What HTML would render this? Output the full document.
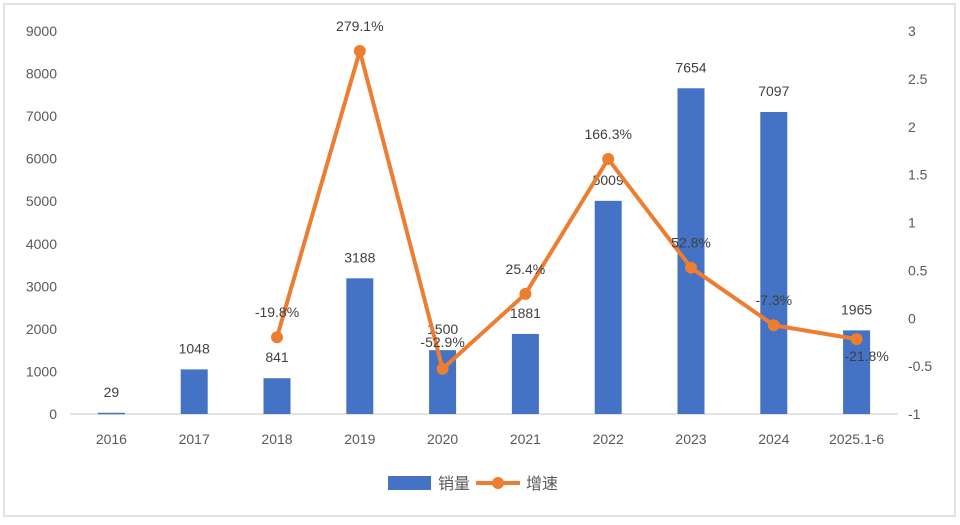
<!DOCTYPE html>
<html><head><meta charset="utf-8"><style>
html,body{margin:0;padding:0;background:#fff}
svg text{font-family:"Liberation Sans","Noto Sans CJK SC",sans-serif;fill:#595959}
</style></head><body>
<svg width="960" height="520" xmlns="http://www.w3.org/2000/svg" id="chart">
<rect x="4" y="4" width="951" height="512" fill="#fff" stroke="#d9d9d9" stroke-width="1.5"/>
<g id="g"></g>
</svg>
<script>
const categories=["2016","2017","2018","2019","2020","2021","2022","2023","2024","2025.1-6"];
const sales=[29,1048,841,3188,1500,1881,5009,7654,7097,1965];
const growth=[null,null,-0.198,2.791,-0.529,0.254,1.663,0.528,-0.073,-0.218];
const growthLabels=["","","-19.8%","279.1%","-52.9%","25.4%","166.3%","52.8%","-7.3%","-21.8%"];
const leftTicks=[0,1000,2000,3000,4000,5000,6000,7000,8000,9000];
const rightTicks=[-1,-0.5,0,0.5,1,1.5,2,2.5,3];

const NS="http://www.w3.org/2000/svg";
const g=document.getElementById('g');
const X0=70,X1=898,Y0=414,Y1=31;
const band=(X1-X0)/categories.length;
const xc=i=>X0+band*(i+0.5);
const yL=v=>Y0-(v/9000)*(Y0-Y1);
const yR=v=>Y0-((v+1)/4)*(Y0-Y1);
function mk(t,a,txt){const e=document.createElementNS(NS,t);for(const k in a)e.setAttribute(k,a[k]);if(txt!=null)e.textContent=txt;g.appendChild(e);return e;}

leftTicks.forEach(v=>{
 const t=mk('text',{x:57,y:yL(v)+5,'text-anchor':'end','font-size':14},v);
 
 
});
rightTicks.forEach(v=>{
 const t=mk('text',{x:908,y:yR(v)+5,'text-anchor':'start','font-size':14},v);
 
 
});
const ax=mk('line',{x1:X0,y1:Y0,x2:X1,y2:Y0,stroke:'#d9d9d9','stroke-width':1.5});



categories.forEach((c,i)=>{
 const t=mk('text',{x:xc(i),y:444,'text-anchor':'middle','font-size':14},c);
 
 
 const bw=27,y=yL(sales[i]);
 const b=mk('rect',{x:xc(i)-bw/2,y:y,width:bw,height:Math.max(Y0-y,1.5),fill:'#4472c4'});
 
 
 const l=mk('text',{x:xc(i),y:y-16,'text-anchor':'middle','font-size':14,style:'fill:#404040'},sales[i]);
 
 
});

let pts=[];
growth.forEach((v,i)=>{if(v!==null)pts.push([xc(i),yR(v)]);});
const pl=mk('polyline',{points:pts.map(p=>p.join(',')).join(' '),fill:'none',stroke:'#ed7d31','stroke-width':4,'stroke-linejoin':'round'});


growth.forEach((v,i)=>{
 if(v===null)return;
 const c=mk('circle',{cx:xc(i),cy:yR(v),r:6,fill:'#ed7d31'});
 
 
 let dy=-20, dx=0;
 if(i===9){dy=22;dx=10;}
 if(i===4){dy=-22;}
 const t=mk('text',{x:xc(i)+dx,y:yR(v)+dy,'text-anchor':'middle','font-size':14,style:'fill:#404040'},growthLabels[i]);
 
 
});

const lg1=mk('rect',{x:388,y:476,width:43,height:14,fill:'#4472c4'});


const lt1=mk('text',{x:438,y:489,'font-size':16},'销量');


const lg2=mk('line',{x1:476,y1:483,x2:520,y2:483,stroke:'#ed7d31','stroke-width':4});


const lg3=mk('circle',{cx:498,cy:483,r:6,fill:'#ed7d31'});


const lt2=mk('text',{x:526,y:489,'font-size':16},'增速');


</script>
</body></html>
